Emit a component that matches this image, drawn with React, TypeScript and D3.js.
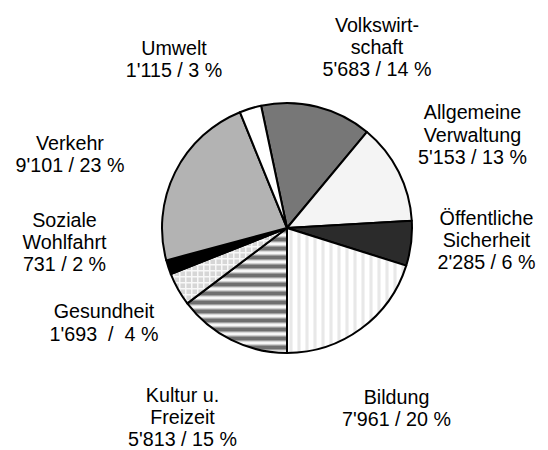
import React from "react";
import * as d3 from "d3";

const categories = [
  "Volkswirtschaft",
  "Allgemeine Verwaltung",
  "Öffentliche Sicherheit",
  "Bildung",
  "Kultur u. Freizeit",
  "Gesundheit",
  "Soziale Wohlfahrt",
  "Verkehr",
  "Umwelt",
];
const values = [5683, 5153, 2285, 7961, 5813, 1693, 731, 9101, 1115];
const labelLines = [
  ["Volkswirt-", "schaft", "5'683 / 14 %"],
  ["Allgemeine", "Verwaltung", "5'153 / 13 %"],
  ["Öffentliche", "Sicherheit", "2'285 / 6 %"],
  ["Bildung", "7'961 / 20 %"],
  ["Kultur u.", "Freizeit", "5'813 / 15 %"],
  ["Gesundheit", "1'693  /  4 %"],
  ["Soziale", "Wohlfahrt", "731 / 2 %"],
  ["Verkehr", "9'101 / 23 %"],
  ["Umwelt", "1'115 / 3 %"],
];
const fills = [
  "#777777",
  "#f4f4f4",
  "#2b2b2b",
  "url(#pVert)",
  "url(#pHoriz)",
  "url(#pGrid)",
  "#000000",
  "#b3b3b3",
  "#ffffff",
];
// label anchor (center x, first baseline y)
const labelPos: [number, number][] = [
  [377, 31.5],
  [472.5, 119.3],
  [486.5, 225],
  [396.5, 404],
  [182.5, 402],
  [104, 318.3],
  [64.5, 226.5],
  [70, 150],
  [174, 55],
];

const W = 548;
const H = 450;
const cx = 287;
const cy = 228;
const R = 125;
const lineH = 22.2;

export default function App() {
  const total = d3.sum(values);
  const cumThroughBildung = d3.sum(values.slice(0, 4));
  const start = Math.PI - 2 * Math.PI * (cumThroughBildung / total);
  const pie = d3
    .pie<number>()
    .sort(null)
    .value((d) => d)
    .startAngle(start)
    .endAngle(start + 2 * Math.PI);
  const arcs = pie(values);
  const arc = d3.arc<d3.PieArcDatum<number>>().innerRadius(0).outerRadius(R);

  return (
    <svg
      width={W}
      height={H}
      style={{ position: "absolute", left: 0, top: 0, background: "#fff" }}
      fontFamily="'Liberation Sans', Arial, sans-serif"
    >
      <defs>
        <pattern id="pVert" patternUnits="userSpaceOnUse" width={8} height={8}>
          <rect width={8} height={8} fill="#ffffff" />
          <rect x={2} width={1} height={8} fill="#f2f2f2" />
          <rect x={3} width={2} height={8} fill="#e8e8e8" />
          <rect x={5} width={1} height={8} fill="#f2f2f2" />
        </pattern>
        <pattern id="pHoriz" patternUnits="userSpaceOnUse" width={9} height={9}>
          <rect width={9} height={9} fill="#f6f6f6" />
          <rect y={0} width={9} height={1} fill="#9a9a9a" />
          <rect y={1} width={9} height={3} fill="#6f6f6f" />
          <rect y={4} width={9} height={1} fill="#a0a0a0" />
          <rect y={5} width={9} height={1} fill="#d8d8d8" />
          <rect y={8} width={9} height={1} fill="#cfcfcf" />
        </pattern>
        <pattern id="pGrid" patternUnits="userSpaceOnUse" width={6} height={6}>
          <rect width={6} height={6} fill="#d6d6d6" />
          <rect x={0} y={0} width={6} height={1.5} fill="#f8f8f8" />
          <rect x={0} y={0} width={1.5} height={6} fill="#f8f8f8" />
        </pattern>
      </defs>
      <g transform={`translate(${cx},${cy})`}>
        {arcs.map((a, i) => (
          <path
            key={categories[i]}
            d={arc(a) || ""}
            fill={fills[i]}
            stroke="#000"
            strokeWidth={2}
            strokeLinejoin="round"
          />
        ))}
      </g>
      {labelLines.map((lines, i) => (
        <text
          key={categories[i]}
          x={labelPos[i][0]}
          y={labelPos[i][1]}
          textAnchor="middle"
          fontSize={19.7}
          fill="#000"
          style={{ whiteSpace: "pre" }}
        >
          {lines.map((l, j) => (
            <tspan key={j} x={labelPos[i][0]} y={labelPos[i][1] + j * lineH}>
              {l}
            </tspan>
          ))}
        </text>
      ))}
    </svg>
  );
}
